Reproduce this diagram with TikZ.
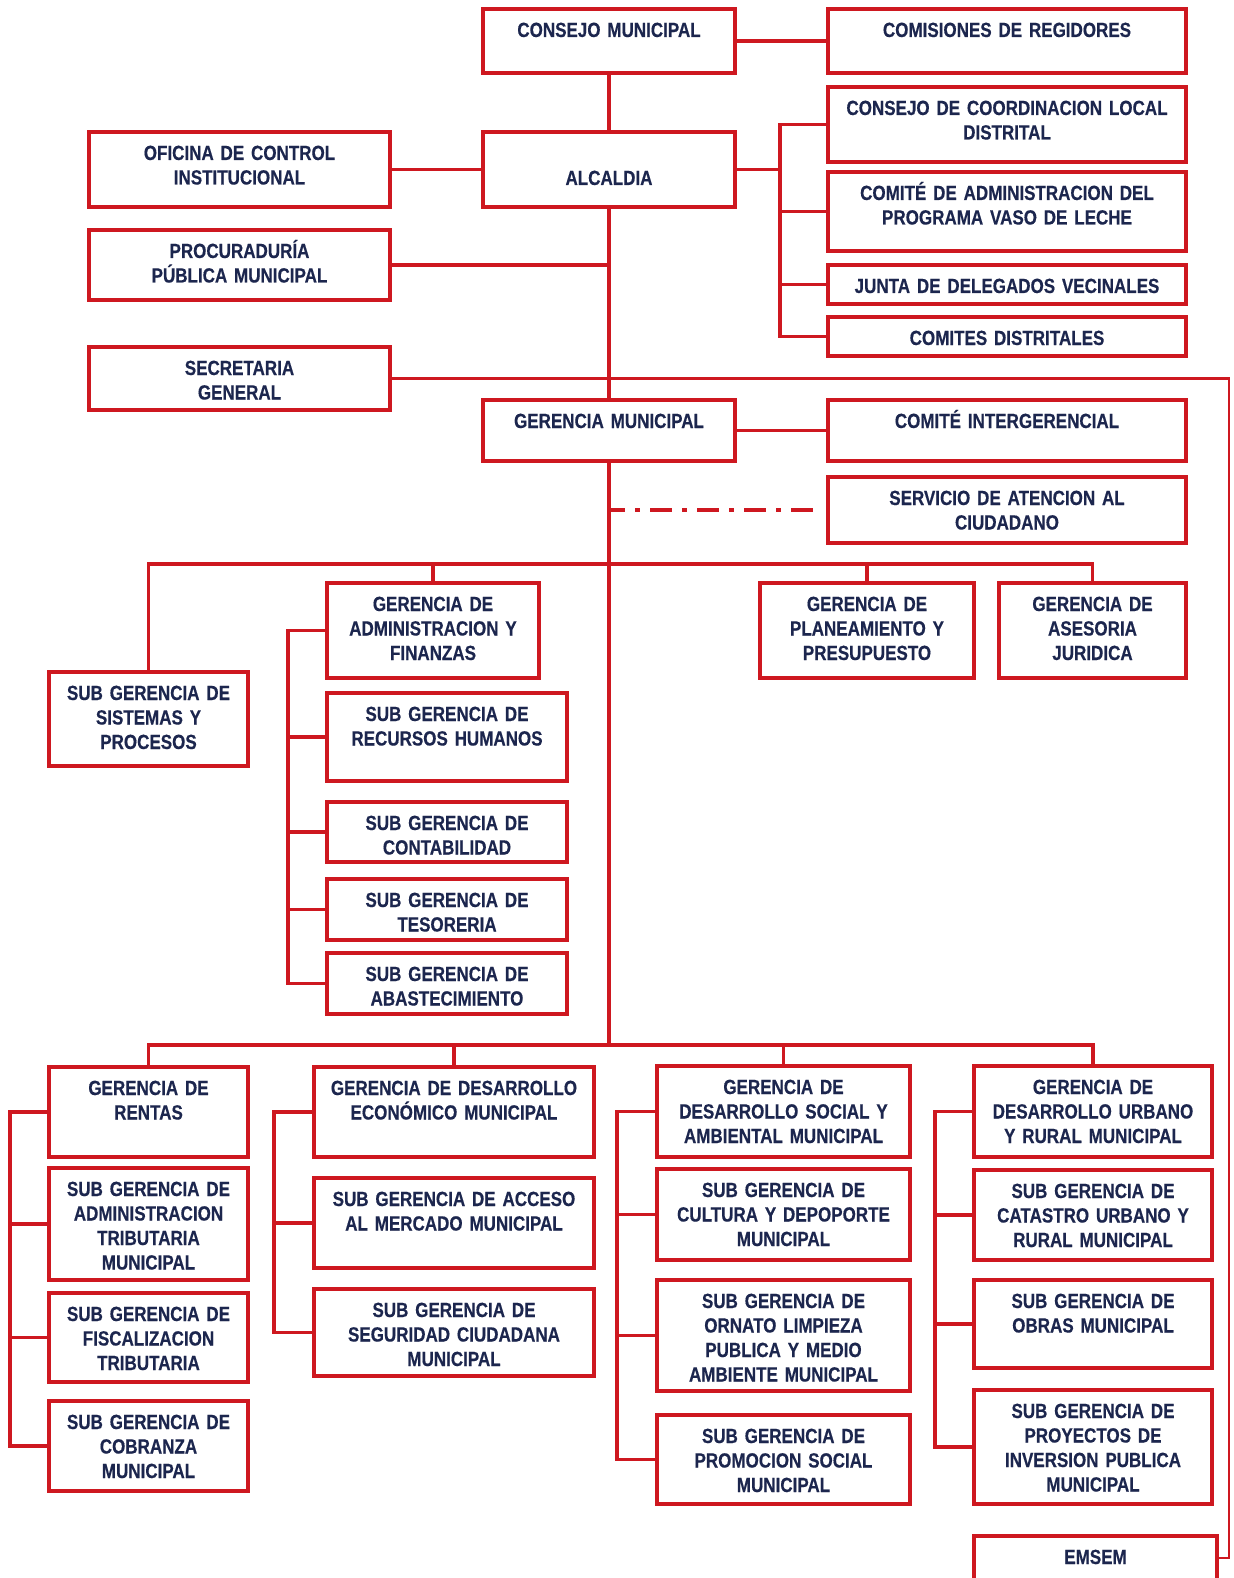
\documentclass[tikz,border=0pt]{standalone}
\usepackage{fontspec}
\newfontfamily\orgfont{Liberation Sans}[FakeStretch=0.83, FakeBold=0.4, WordSpace=0.8]
\usetikzlibrary{positioning}
\definecolor{orgred}{RGB}{206,24,32}
\definecolor{orgnavy}{RGB}{28,38,78}
\tikzset{
%Define style for boxes
    unit/.style={
           rectangle,
           draw=orgred, line width=3.3pt,
           fill=white,
           text=orgnavy,
           font=\orgfont\bfseries\fontsize{20.5}{24.5}\selectfont,
           align=center,
           inner sep=0pt, outer sep=0pt,
           anchor=north west,
           text height=28pt},
%Box size in pixels
    boxw/.style={text width=#1pt},
    boxh/.style={text depth=\the\dimexpr#1pt-28pt\relax},
% Define line styles
    link/.style={
           draw=orgred,
           line width=3.3pt,
           line cap=rect},
    feed/.style={
           draw=orgred,
           line width=2.2pt},
    dashdot/.style={
           draw=orgred,
           line width=3.3pt,
           dash pattern=on 22pt off 10pt on 5pt off 10pt,
           dash phase=6pt}
}
\begin{document}
\begin{tikzpicture}[x=1pt, y=-1pt]
 \useasboundingbox (0,0) rectangle (1233,1578);
 \clip (0,0) rectangle (1233,1578);
%Top level
 \node[unit, boxw=252, boxh=64] (cm) at (483,9) {CONSEJO MUNICIPAL};
 \node[unit, boxw=252, text height=53pt, text depth=22pt, below=59pt of cm] (alc) {ALCALDIA};
 \node[unit, boxw=252, boxh=61] (gm) at (483,400) {GERENCIA MUNICIPAL};
%Right column
 \node[unit, boxw=358, boxh=64] (cr) at (828,9) {COMISIONES DE REGIDORES};
 \node[unit, boxw=358, boxh=75, below=14pt of cr] (ccl) {CONSEJO DE COORDINACION LOCAL\\DISTRITAL};
 \node[unit, boxw=358, boxh=79, below=10pt of ccl] (cavl) {COMITÉ DE ADMINISTRACION DEL\\PROGRAMA VASO DE LECHE};
 \node[unit, boxw=358, boxh=39, below=14pt of cavl] (jdv) {JUNTA DE DELEGADOS VECINALES};
 \node[unit, boxw=358, boxh=39, below=13pt of jdv] (cd) {COMITES DISTRITALES};
 \node[unit, boxw=358, boxh=61] (ci) at (828,400) {COMITÉ INTERGERENCIAL};
 \node[unit, boxw=358, boxh=66, below=16pt of ci] (sac) {SERVICIO DE ATENCION AL\\CIUDADANO};
%Left column
 \node[unit, boxw=301, boxh=75] (oci) at (89,132) {OFICINA DE CONTROL\\INSTITUCIONAL};
 \node[unit, boxw=301, boxh=70, below=23pt of oci] (ppm) {PROCURADURÍA\\PÚBLICA MUNICIPAL};
 \node[unit, boxw=301, boxh=63, below=47pt of ppm] (sg) {SECRETARIA\\GENERAL};
%Middle row
 \node[unit, boxw=199, boxh=94] (ssp) at (49,672) {SUB GERENCIA DE\\SISTEMAS Y\\PROCESOS};
 \node[unit, boxw=212, boxh=95] (gaf) at (327,583) {GERENCIA DE\\ADMINISTRACION Y\\FINANZAS};
 \node[unit, boxw=214, boxh=95] (gpp) at (760,583) {GERENCIA DE\\PLANEAMIENTO Y\\PRESUPUESTO};
 \node[unit, boxw=187, boxh=95] (gaj) at (999,583) {GERENCIA DE\\ASESORIA\\JURIDICA};
 \node[unit, boxw=240, boxh=88] (srh) at (327,693) {SUB GERENCIA DE\\RECURSOS HUMANOS};
 \node[unit, boxw=240, boxh=60, below=21pt of srh] (sco) {SUB GERENCIA DE\\CONTABILIDAD};
 \node[unit, boxw=240, boxh=61, below=17pt of sco] (ste) {SUB GERENCIA DE\\TESORERIA};
 \node[unit, boxw=240, boxh=61, below=13pt of ste] (sab) {SUB GERENCIA DE\\ABASTECIMIENTO};
%Bottom row
 \node[unit, boxw=199, boxh=90] (gr) at (49,1067) {GERENCIA DE\\RENTAS};
 \node[unit, boxw=199, boxh=112, below=11pt of gr] (sat) {SUB GERENCIA DE\\ADMINISTRACION\\TRIBUTARIA\\MUNICIPAL};
 \node[unit, boxw=199, boxh=89, below=13pt of sat] (sft) {SUB GERENCIA DE\\FISCALIZACION\\TRIBUTARIA};
 \node[unit, boxw=199, boxh=90, below=19pt of sft] (scm) {SUB GERENCIA DE\\COBRANZA\\MUNICIPAL};
 \node[unit, boxw=280, boxh=90] (gde) at (314,1067) {GERENCIA DE DESARROLLO\\ECONÓMICO MUNICIPAL};
 \node[unit, boxw=280, boxh=90, below=21pt of gde] (sam) {SUB GERENCIA DE ACCESO\\AL MERCADO MUNICIPAL};
 \node[unit, boxw=280, boxh=87, below=21pt of sam] (ssc) {SUB GERENCIA DE\\SEGURIDAD CIUDADANA\\MUNICIPAL};
 \node[unit, boxw=253, boxh=91] (gds) at (657,1066) {GERENCIA DE\\DESARROLLO SOCIAL Y\\AMBIENTAL MUNICIPAL};
 \node[unit, boxw=253, boxh=91, below=12pt of gds] (scd) {SUB GERENCIA DE\\CULTURA Y DEPOPORTE\\MUNICIPAL};
 \node[unit, boxw=253, boxh=111, below=20pt of scd] (sol) {SUB GERENCIA DE\\ORNATO LIMPIEZA\\PUBLICA Y MEDIO\\AMBIENTE MUNICIPAL};
 \node[unit, boxw=253, boxh=89, below=24pt of sol] (sps) {SUB GERENCIA DE\\PROMOCION SOCIAL\\MUNICIPAL};
 \node[unit, boxw=238, boxh=91] (gdu) at (974,1066) {GERENCIA DE\\DESARROLLO URBANO\\Y RURAL MUNICIPAL};
 \node[unit, boxw=238, boxh=90, below=13pt of gdu] (scu) {SUB GERENCIA DE\\CATASTRO URBANO Y\\RURAL MUNICIPAL};
 \node[unit, boxw=238, boxh=88, below=20pt of scu] (sob) {SUB GERENCIA DE\\OBRAS MUNICIPAL};
 \node[unit, boxw=238, boxh=114, below=22pt of sob] (spi) {SUB GERENCIA DE\\PROYECTOS DE\\INVERSION PUBLICA\\MUNICIPAL};
 \node[unit, boxw=243, boxh=44] (emsem) at (974,1536) {EMSEM};
%Bus points
 \coordinate (rbus) at (780,124.5);
 \coordinate (mbus) at (609,564);
 \coordinate (bbus) at (609,1045);
 \coordinate (abus) at (288,630.5);
 \coordinate (c1bus) at (10,1112);
 \coordinate (c2bus) at (274,1112);
 \coordinate (c3bus) at (617,1111.5);
 \coordinate (c4bus) at (935,1111.5);
 \coordinate (ecorner) at (1229,378.5);
%Lines
 \draw[link] (cm) -- (cr);
 \draw[link] (cm) -- (alc);
 \draw[link] (oci) -- (alc);
 \draw[link] (alc) -- (gm);
 \draw[link] (alc.east) -- (alc.east -| rbus);
 \draw[link] (ccl.west) -- (rbus) |- (cd.west);
 \foreach \n in {cavl,jdv} \draw[link] (\n.west) -- (\n.west -| rbus);
 \draw[link] (ppm.east) -- (ppm.east -| gm.north);
 \draw[link] (sg.east) -- (sg.east -| gm.north);
 \draw[feed] (sg.east -| gm.north) -- (ecorner) |- (emsem.east);
 \draw[link] (gm) -- (ci);
 \draw[dashdot] (sac.west -| gm.south) -- ([xshift=-8pt]sac.west);
 \draw[link] (gm.south) -- (bbus);
 \draw[link] (ssp.north) |- (mbus) -| (gaj.north);
 \foreach \n in {gaf,gpp} \draw[link] (\n.north) -- (\n.north |- mbus);
 \draw[link] (gaf.west) -- (gaf.west -| abus) |- (sab.west);
 \foreach \n in {srh,sco,ste} \draw[link] (\n.west) -- (\n.west -| abus);
 \draw[link] (gr.north) |- (bbus) -| (gdu.north);
 \foreach \n in {gde,gds} \draw[link] (\n.north) -- (\n.north |- bbus);
 \draw[link] (gr.west) -- (gr.west -| c1bus) |- (scm.west);
 \foreach \n in {sat,sft} \draw[link] (\n.west) -- (\n.west -| c1bus);
 \draw[link] (gde.west) -- (gde.west -| c2bus) |- (ssc.west);
 \draw[link] (sam.west) -- (sam.west -| c2bus);
 \draw[link] (gds.west) -- (gds.west -| c3bus) |- (sps.west);
 \foreach \n in {scd,sol} \draw[link] (\n.west) -- (\n.west -| c3bus);
 \draw[link] (gdu.west) -- (gdu.west -| c4bus) |- (spi.west);
 \foreach \n in {scu,sob} \draw[link] (\n.west) -- (\n.west -| c4bus);
\end{tikzpicture}
\end{document}
